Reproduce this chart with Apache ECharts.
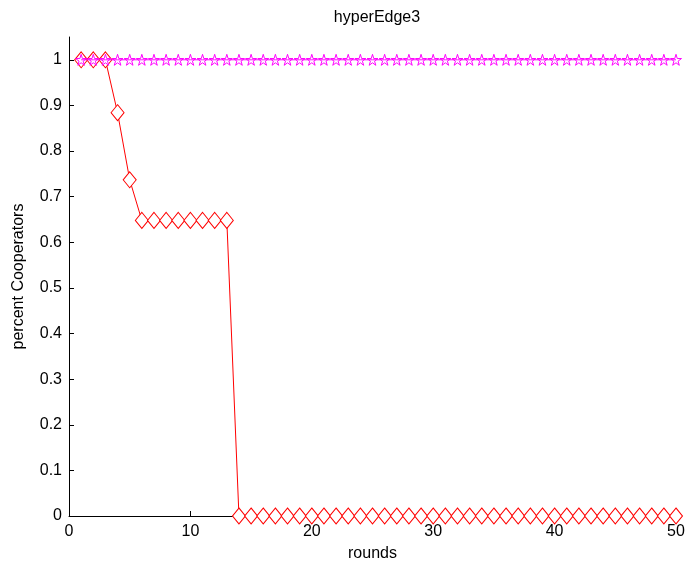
<!DOCTYPE html>
<html><head><meta charset="utf-8">
<script src="https://cdn.jsdelivr.net/npm/echarts@6/dist/echarts.min.js"></script>
<style>html,body{margin:0;padding:0;background:#fff}#c{width:685px;height:569px}</style>
</head><body><div id="c"></div>
<script>
var rounds = [1,2,3,4,5,6,7,8,9,10,11,12,13,14,15,16,17,18,19,20,21,22,23,24,25,
  26,27,28,29,30,31,32,33,34,35,36,37,38,39,40,41,42,43,44,45,46,47,48,49,50];
var redValues = [1,1,1,0.884,0.737,0.648,0.648,0.648,0.648,0.648,0.648,0.648,0.648,
  0,0,0,0,0,0,0,0,0,0,0,0,0,0,0,0,0,0,0,0,0,0,0,0,0,0,0,0,0,0,0,0,0,0,0,0,0];
var magentaValues = [1,1,1,1,1,1,1,1,1,1,1,1,1,1,1,1,1,1,1,1,1,1,1,1,1,1,1,1,1,1,1,1,1,1,1,1,1,1,1,1,1,1,1,1,1,1,1,1,1,1];
var xTicks = [0,10,20,30,40,50];
var yTicks = [0,0.1,0.2,0.3,0.4,0.5,0.6,0.7,0.8,0.9,1];

var starPath = 'path://M50,0 L61,35 L98,35 L68,57 L79,91 L50,70 L21,91 L32,57 L2,35 L39,35 Z';
var font = 'Liberation Sans, Arial, sans-serif';
var chart = echarts.init(document.getElementById('c'));
chart.setOption({
  animation: false,
  title: {text: 'hyperEdge3', left: 372, top: 5, textAlign: 'center',
    textStyle: {fontFamily: font, fontSize: 16, fontWeight: 'normal', color: '#000'}},
  grid: {left: 69, right: 9, top: 37, bottom: 53, containLabel: false, outerBoundsMode: 'none'},
  xAxis: {type: 'value', min: 0, max: 50, interval: 10,
    name: 'rounds', nameLocation: 'middle', nameGap: 30,
    nameTextStyle: {fontFamily: font, fontSize: 16, color: '#000'},
    axisLine: {lineStyle: {color: '#000', width: 1}},
    axisTick: {inside: true, length: 5, lineStyle: {color: '#000'}},
    axisLabel: {fontFamily: font, fontSize: 16, color: '#000', margin: 8,
      formatter: function(v){ return xTicks.indexOf(v) >= 0 ? String(v) : ''; }},
    splitLine: {show: false}},
  yAxis: {type: 'value', min: 0, max: 1.05, interval: 0.1,
    name: 'percent Cooperators', nameLocation: 'middle', nameGap: 42,
    nameTextStyle: {fontFamily: font, fontSize: 16, color: '#000'},
    axisLine: {show: true, lineStyle: {color: '#000', width: 1}},
    axisTick: {inside: true, length: 5, lineStyle: {color: '#000'}},
    axisLabel: {fontFamily: font, fontSize: 16, color: '#000', margin: 7, showMaxLabel: false,
      formatter: function(v){
        for (var k = 0; k < yTicks.length; k++) if (Math.abs(yTicks[k]-v) < 1e-6) return String(yTicks[k]);
        return ''; }},
    splitLine: {show: false}},
  series: [
    {type: 'line', data: rounds.map(function(x,i){return [x, redValues[i]];}),
     symbol: 'diamond', symbolSize: [13,16], showAllSymbol: true,
     lineStyle: {color: '#ff0000', width: 1},
     itemStyle: {color: '#fff', borderColor: '#ff0000', borderWidth: 1}, z: 2},
    {type: 'line', data: rounds.map(function(x,i){return [x, magentaValues[i]];}),
     symbol: starPath, symbolSize: 11, showAllSymbol: true,
     lineStyle: {color: '#ff00ff', width: 1},
     itemStyle: {color: 'rgba(255,255,255,0)', borderColor: '#ff00ff', borderWidth: 1}, z: 3}
  ]
});
</script></body></html>
